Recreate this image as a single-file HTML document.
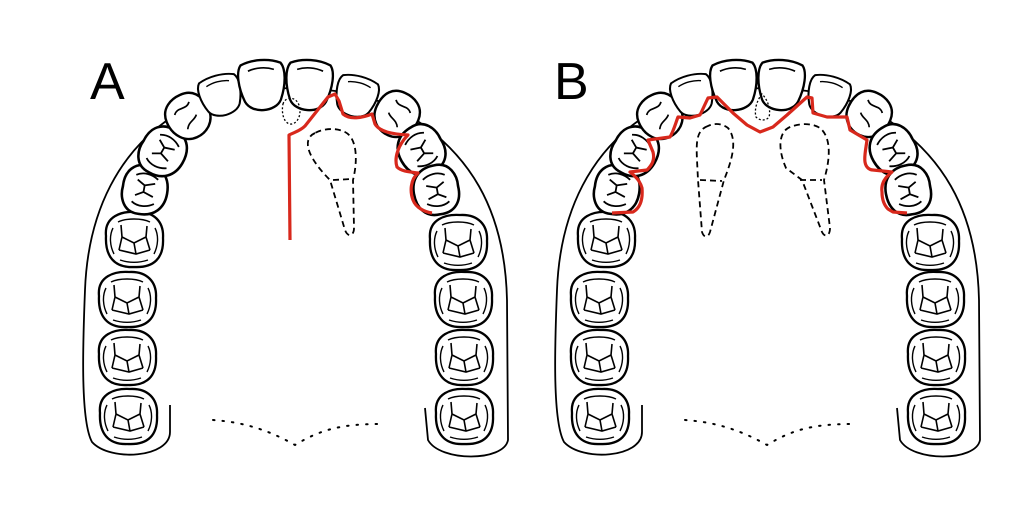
<!DOCTYPE html>
<html><head><meta charset="utf-8"><style>
html,body{margin:0;padding:0;background:#fff;}
svg{display:block;}
</style></head><body>
<svg width="1030" height="510" viewBox="0 0 1030 510" xmlns="http://www.w3.org/2000/svg">
<defs>
<g id="molar" fill="#fff" stroke="#000" stroke-width="2">
<path d="M-28,-4 C-30,-24 -12,-29 2,-28 C20,-29 30,-18 29,-2 C30,18 20,28 0,27 C-20,28 -29,16 -28,-4Z" stroke-width="2.3"/>
<path d="M-21,-12 C-25,-4 -24,6 -20,14 M21,-12 C25,-4 24,6 20,14 M-16,-18 C-8,-22 8,-22 16,-18 M-14,20 C-5,23 5,23 14,20" fill="none" stroke-width="1.4"/>
<path d="M-12,-3 L0,3 L12,-3 M0,3 L2,14 M-12,-3 L-13,-15 M-12,-3 L-15,10 M12,-3 L13,-14 M12,-3 L16,10 M-15,10 L2,14 L16,10" fill="none" stroke-width="1.6"/>
</g>
<g id="premolar" fill="#fff" stroke="#000" stroke-width="2">
<path d="M-22,-2 C-23,-16 -10,-21 0,-20 C14,-21 23,-13 22,0 C23,14 12,20 0,20 C-13,20 -22,12 -22,-2Z" stroke-width="2.3"/>
<path d="M-12,-10 C-16,-4 -15,4 -11,10 M12,-10 C16,-4 15,4 11,10 M-6,-8 L-2,-1 L4,-1 L8,-8 M-2,-1 L-5,8 M4,-1 L7,8" fill="none" stroke-width="1.6"/>
</g>
<g id="canine" fill="#fff" stroke="#000" stroke-width="2">
<path d="M-20,-6 C-18,-20 -5,-23 4,-22 C16,-21 22,-12 21,2 C20,16 8,22 -2,21 C-14,20 -22,8 -20,-6Z" stroke-width="2.3"/>
<path d="M-10,-8 C-4,-14 2,-6 8,-12 M-6,10 C-2,4 4,6 8,2" fill="none" stroke-width="1.6"/>
</g>
<g id="incisor" fill="#fff" stroke="#000" stroke-width="2">
<path d="M-20,-21 C-8,-26 8,-26 20,-21 C25,-15 24,0 18,14 C12,26 -12,26 -18,14 C-24,0 -25,-15 -20,-21Z" stroke-width="2.3"/>
<path d="M-13,-15 C-5,-18 5,-18 13,-15" fill="none" stroke-width="1.6"/>
</g>
<g id="arch">
<path d="M170,405 L170,432 C170,458 110,462 92,442 C80,420 83,340 85,290 C88,210 120,150 175,115 C240,80 340,80 400,110 C470,150 505,210 507,300 L508,440 C504,462 440,462 428,440 L425,408" fill="none" stroke="#000" stroke-width="1.8"/>
<use href="#molar" transform="translate(128,417)"/>
<use href="#molar" transform="translate(127,358)"/>
<use href="#molar" transform="translate(127,300)"/>
<use href="#molar" transform="translate(134,240)"/>
<use href="#premolar" transform="translate(145,190) rotate(-80) scale(1.12)"/>
<use href="#premolar" transform="translate(163,152) rotate(-60) scale(1.12)"/>
<use href="#canine" transform="translate(188,117) rotate(-30) scale(1.05)"/>
<use href="#incisor" transform="translate(221,96) rotate(-15) scale(.9,.85)"/>
<use href="#incisor" transform="translate(262,86) rotate(-4) scale(1,1.05)"/>
<use href="#incisor" transform="translate(309,86) rotate(4) scale(1,1.05)"/>
<use href="#incisor" transform="translate(356,97) rotate(15) scale(.9,.85)"/>
<use href="#canine" transform="translate(397,115) scale(-1.05,1.05) rotate(-30)"/>
<use href="#premolar" transform="translate(421,150) rotate(60) scale(1.12)"/>
<use href="#premolar" transform="translate(436,190) rotate(80) scale(1.12)"/>
<use href="#molar" transform="translate(458,243)"/>
<use href="#molar" transform="translate(463,300)"/>
<use href="#molar" transform="translate(464,358)"/>
<use href="#molar" transform="translate(464,417)"/>
<path d="M213,420 C240,422 265,428 295,445 C320,430 340,424 380,424" fill="none" stroke="#000" stroke-width="2" stroke-dasharray="1.5,8" stroke-linecap="round"/>
</g>
</defs>
<text x="90" y="99" font-family="Liberation Sans, sans-serif" font-size="52" fill="#000">A</text>
<text x="554" y="99" font-family="Liberation Sans, sans-serif" font-size="52" fill="#000">B</text>
<use href="#arch"/>
<use href="#arch" transform="translate(472,0)"/>
<path d="M283,104 C285,97 294,96 298,103 C302,110 300,122 292,124 C284,125 281,113 283,104Z" fill="none" stroke="#000" stroke-width="1.3" stroke-dasharray="2,2"/>
<path d="M315,133 C300,140 310,160 330,180 L345,230 C348,238 354,236 354,228 L353,180 C358,160 357,138 345,132 C335,127 322,129 315,133Z" fill="none" stroke="#000" stroke-width="1.8" stroke-dasharray="6,4"/>
<path d="M333,180 L352,179" fill="none" stroke="#000" stroke-width="1.8" stroke-dasharray="6,4"/>
<path d="M290,240 L289,135 C295,132 300,131 305,126 L328,97 L335,94 L339,101 L343,114 C350,120 362,118 372,114 L375,124 C380,132 392,134 408,135 C398,145 394,158 397,167 C402,172 412,172 418,173 C410,180 410,192 413,200 C416,208 425,212 432,213" fill="none" stroke="#d8281c" stroke-width="3.2" stroke-linejoin="round"/>
<path d="M762,94 C757,100 754,110 756,117 C760,121 766,121 769,117 C771,110 768,100 762,94Z" fill="none" stroke="#000" stroke-width="1.3" stroke-dasharray="2,2"/>
<path d="M708,126 C697,130 696,140 697,160 L698,180 L702,232 C704,238 708,238 710,232 L724,180 C732,160 738,140 728,128 C720,122 712,124 708,126Z" fill="none" stroke="#000" stroke-width="1.8" stroke-dasharray="6,4"/>
<path d="M700,180 L722,181" fill="none" stroke="#000" stroke-width="1.8" stroke-dasharray="6,4"/>
<path d="M790,127 C778,132 778,150 786,168 L802,180 L822,232 C825,238 830,236 830,228 L824,180 C830,160 832,138 820,128 C810,122 798,124 790,127Z" fill="none" stroke="#000" stroke-width="1.8" stroke-dasharray="6,4"/>
<path d="M800,180 L822,180" fill="none" stroke="#000" stroke-width="1.8" stroke-dasharray="6,4"/>
<path d="M612,213 L633,212 C640,208 643,200 642,188 C640,180 634,175 630,172 L647,170 C652,165 655,160 653,152 L648,140 L670,137 C674,130 676,122 678,117 L690,118 L700,115 L708,98 L717,97 L733,113 L747,125 L760,132 L773,127 L787,115 L807,97 L812,98 L813,113 L827,117 L847,117 L850,130 L867,140 C866,148 864,156 865,162 C866,168 870,170 873,170 L892,172 C884,178 881,185 882,192 C882,200 884,205 888,209 L893,212 L907,213" fill="none" stroke="#d8281c" stroke-width="3.2" stroke-linejoin="round"/>
</svg>
</body></html>
